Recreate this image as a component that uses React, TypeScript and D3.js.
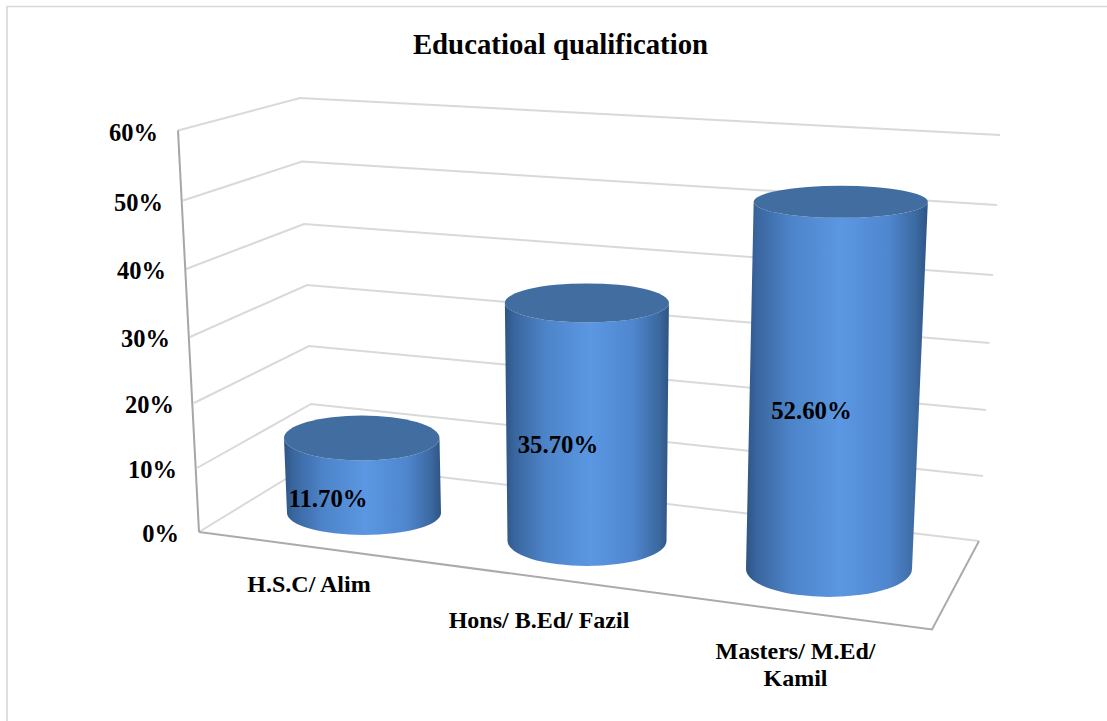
import React from "react";
import * as d3 from "d3";

const categories = ["H.S.C/ Alim", "Hons/ B.Ed/ Fazil", "Masters/ M.Ed/ Kamil"];
const shares = [11.7, 35.7, 52.6];
const valueLabels = ["11.70%", "35.70%", "52.60%"];
const ticks = [0, 10, 20, 30, 40, 50, 60];
const title = "Educatioal qualification";

// Edges of the 3D box, indexed by axis value
const frontLeftX = d3.scaleLinear(ticks, [199, 197, 194, 190, 186, 183, 178]);
const frontLeftY = d3.scaleLinear(ticks, [532, 468, 403, 337, 269, 200.5, 130.5]);
const backLeftX = d3.scaleLinear(ticks, [313.5, 311, 309, 307, 304, 302, 300]);
const backLeftY = d3.scaleLinear(ticks, [462, 404, 346, 285, 224, 161.5, 98]);
const backRightX = d3.scaleLinear(ticks, [979, 983, 986, 989.5, 993, 997, 1000]);
const backRightY = d3.scaleLinear(ticks, [541, 476, 410, 343, 275, 205, 135]);
const floorCorner: [number, number] = [932, 629.5];

// Cylinder placement on the floor, indexed by category
const baseX = d3.scaleLinear([0, 1, 2], [364, 587, 829]);
const baseY = d3.scaleLinear([0, 1, 2], [513, 541, 569]);
const baseRx = d3.scaleLinear([0, 1, 2], [77, 79.5, 83]);
const baseRy = d3.scaleLinear([0, 1, 2], [22, 25, 28]);
const unitHeight = d3.scaleLinear([0, 1, 2], [6.41, 6.67, 6.98]);
const topRy = d3.scaleLinear([0, 1, 2], [22.5, 19.5, 16]);

// Vertical edges converge toward a point far below the chart
const centerX = 590;
const lean = 0.000134;

const labelFont = "'Liberation Serif', 'Times New Roman', serif";

function Cylinder({ i }: { i: number }) {
  const bx = baseX(i);
  const by = baseY(i);
  const rx = baseRx(i);
  const ry = baseRy(i);
  const h = shares[i] * unitHeight(i);
  const grow = 1 + h * lean;
  const tx = centerX + (bx - centerX) * grow;
  const ty = by - h;
  const trx = rx * grow;
  const tRy = topRy(i);
  const d =
    `M${tx - trx},${ty} L${bx - rx},${by} ` +
    `A${rx},${ry} 0 0 0 ${bx + rx},${by} L${tx + trx},${ty} ` +
    `A${trx},${tRy} 0 0 1 ${tx - trx},${ty} Z`;
  return (
    <g>
      <path d={d} fill="url(#cylinderSide)" />
      <ellipse cx={tx} cy={ty} rx={trx} ry={tRy} fill="#416da1" />
    </g>
  );
}

export default function App() {
  return (
    <svg
      width={1107}
      height={721}
      style={{ position: "absolute", left: 0, top: 0, background: "#fff" }}
      fontFamily={labelFont}
      fontWeight="bold"
    >
      <defs>
        <linearGradient id="cylinderSide" x1="0" x2="1" y1="0" y2="0">
          <stop offset="0" stopColor="#2e5484" />
          <stop offset="0.06" stopColor="#3a669f" />
          <stop offset="0.25" stopColor="#4d84c9" />
          <stop offset="0.52" stopColor="#5b97e2" />
          <stop offset="0.78" stopColor="#4f87cf" />
          <stop offset="0.94" stopColor="#3b689f" />
          <stop offset="1" stopColor="#2e5484" />
        </linearGradient>
      </defs>

      {/* Chart area border, visible along the top and left */}
      <path d="M7,721 L7,6.5 L1107,6.5" fill="none" stroke="#d9d9d9" strokeWidth={1.7} />

      {ticks.map((t) => (
        <path
          key={t}
          d={d3.line()([
            [frontLeftX(t), frontLeftY(t)],
            [backLeftX(t), backLeftY(t)],
            [backRightX(t), backRightY(t)],
          ]) as string}
          fill="none"
          stroke="#d9d9d9"
          strokeWidth={2}
        />
      ))}

      {/* Floor edges and the value axis */}
      <path
        d={d3.line()([
          [frontLeftX(0), frontLeftY(0)],
          floorCorner,
          [backRightX(0), backRightY(0)],
        ]) as string}
        fill="none"
        stroke="#ababab"
        strokeWidth={2}
      />
      <line
        x1={frontLeftX(60)}
        y1={frontLeftY(60)}
        x2={frontLeftX(0)}
        y2={frontLeftY(0)}
        stroke="#a6a6a6"
        strokeWidth={2}
      />

      {categories.map((_, i) => (
        <Cylinder key={i} i={i} />
      ))}

      <text x={560.5} y={53.5} textAnchor="middle" fontSize={28.8}>
        {title}
      </text>

      {ticks.map((t) => (
        <text
          key={t}
          x={frontLeftX(t) - 20}
          y={frontLeftY(t) + 10}
          textAnchor="end"
          fontSize={24.5}
        >
          {t}%
        </text>
      ))}

      <text x={309} y={592} textAnchor="middle" fontSize={24}>H.S.C/ Alim</text>
      <text x={539} y={628} textAnchor="middle" fontSize={24}>Hons/ B.Ed/ Fazil</text>
      <text x={795.5} y={659} textAnchor="middle" fontSize={24}>Masters/ M.Ed/</text>
      <text x={795.5} y={686} textAnchor="middle" fontSize={24}>Kamil</text>

      <text x={328} y={507} textAnchor="middle" fontSize={24.8}>{valueLabels[0]}</text>
      <text x={558} y={453} textAnchor="middle" fontSize={24.8}>{valueLabels[1]}</text>
      <text x={811.5} y={419} textAnchor="middle" fontSize={24.8}>{valueLabels[2]}</text>
    </svg>
  );
}
